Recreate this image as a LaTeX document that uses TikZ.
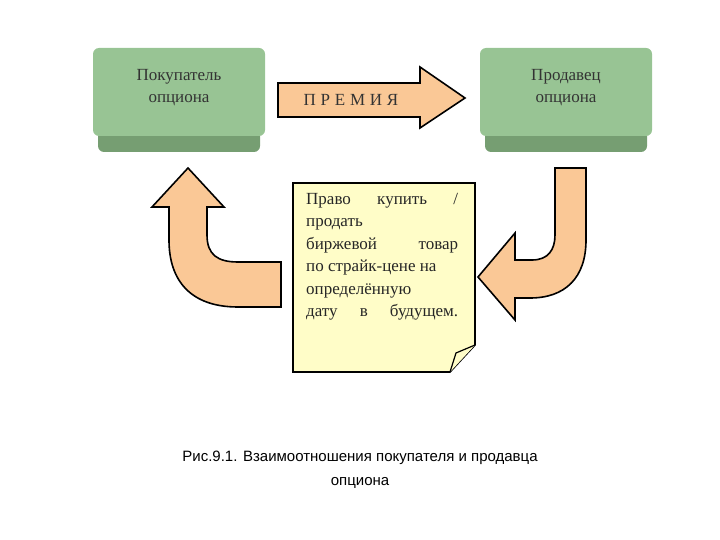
\documentclass[tikz,border=0pt]{standalone}
\usepackage{fontspec}
\setmainfont{Liberation Serif}
\newfontfamily\capfont{Liberation Sans}
\definecolor{gtop}{RGB}{152,196,148}
\definecolor{gbot}{RGB}{118,158,114}
\definecolor{arrfill}{RGB}{250,200,150}
\definecolor{notefill}{RGB}{255,253,200}
\begin{document}
\begin{tikzpicture}[x=1pt,y=-1pt,
  arr/.style={fill=arrfill, draw=black, line width=1.6pt, line join=miter},
  boxtop/.style={fill=gtop, rounded corners=6pt},
  boxbot/.style={fill=gbot, rounded corners=6pt},
  lbl/.style={font=\fontsize{17}{22}\selectfont, align=center, text=black!80}]
\useasboundingbox (0,0) rectangle (720,540);
% boxes
\fill[boxbot] (98,115) rectangle (260,152);
\fill[boxtop] (93,48) rectangle (265,136);
\node[lbl] (buyer) at (179,88) {Покупатель\\опциона};
\fill[boxbot] (485,115) rectangle (647,152);
\fill[boxtop] (480,48) rectangle (652,136);
\node[lbl] (seller) at (566,88) {Продавец\\опциона};
% premium arrow
\draw[arr] (278,83) -- (420,83) -- (420,67) -- (465,98) -- (420,128) -- (420,117) -- (278,117) -- cycle;
\node[lbl, font=\fontsize{17}{22}\selectfont\addfontfeature{LetterSpace=28}] (prem) at (351,100) {ПРЕМИЯ};
% left curved arrow
\draw[arr] (188,168) -- (224,207) -- (207,207) -- (207,235) .. controls (207,255) and (218,262) .. (238,262) -- (281,262) -- (281,307) -- (238,307) .. controls (190,307) and (169,280) .. (169,240) -- (169,207) -- (152,207) -- cycle;
% note
\draw[line width=1.6pt, fill=notefill] (293,183) -- (475,183) -- (475,345) -- (450,372) -- (293,372) -- cycle;
\draw[line width=1.2pt, fill=notefill] (475,345) -- (456,353) -- (450,372);
% right curved arrow
\draw[arr] (555,168) -- (586,168) -- (586,240) .. controls (586,278) and (565,298) .. (530,298) -- (515,298) -- (515,320) -- (478,277) -- (515,233) -- (515,260) -- (532,260) .. controls (548,260) and (555,250) .. (555,235) -- cycle;
\node[anchor=north west, font=\fontsize{17}{22.5}\selectfont, text width=152pt, align=justify, text=black!85, inner sep=0pt] (note) at (306,193)
 {Право\hfill купить\hfill /\\ продать\\ биржевой\hfill товар\\ по страйк-цене на\\ определённую\\ дату\hfill в\hfill будущем.};
% caption
\node[font=\capfont\fontsize{15}{24}\selectfont, align=center] (cap) at (360,470) {Рис.9.1. Взаимоотношения покупателя и продавца\\опциона};
\end{tikzpicture}
\end{document}
